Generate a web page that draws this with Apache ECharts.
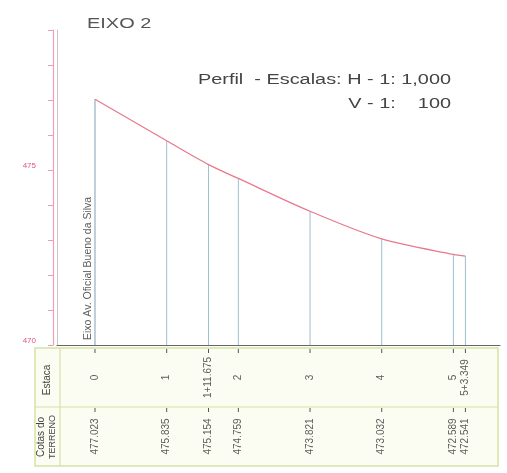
<!DOCTYPE html>
<html><head><meta charset="utf-8">
<script src="https://cdn.jsdelivr.net/npm/echarts@6/dist/echarts.min.js"></script>
<style>html,body{margin:0;padding:0;background:#fff}#c{width:507px;height:473px}</style>
</head><body><div id="c"></div>
<script>
// stations (meters along the axis), labels and ground elevations
const stationDist = [0, 20, 31.675, 40, 60, 80, 100, 103.349];
const stationLabels = ['0', '1', '1+11.675', '2', '3', '4', '5', '5+3.349'];
const elevations = [477.023, 475.835, 475.154, 474.759, 473.821, 473.032, 472.589, 472.541];
const yTickLabels = {470: '470', 475: '475'};
const streetName = 'Eixo Av. Oficial Bueno da Silva';

const FONT = 'Liberation Sans';
const chart = echarts.init(document.getElementById('c'), null, {renderer: 'canvas'});

const profile = stationDist.map((d, i) => [d, elevations[i]]);
const estacaPts = stationDist.map((d, i) => ({value: [d, 1.5], label: {formatter: stationLabels[i]}}));
const cotaPts = stationDist.map((d, i) => ({value: [d, 0.5], label: {formatter: elevations[i].toFixed(3)}}));
const tableLabel = {show: true, position: 'inside', rotate: 90, align: 'center', verticalAlign: 'middle', fontSize: 10, color: '#333', fontFamily: FONT};

chart.setOption({
  backgroundColor: '#fff',
  animation: false,
  textStyle: {fontFamily: FONT},
  grid: [
    {left: 57, right: 7, top: 30, bottom: 128},
    {left: 57, right: 7, top: 348, bottom: 7}
  ],
  xAxis: [
    {type: 'value', gridIndex: 0, min: -10.6, max: 113, axisLine: {onZero: false, lineStyle: {color: '#666', width: 1.2}},
     axisTick: {show: false}, axisLabel: {show: false}, splitLine: {show: false}},
    {type: 'value', gridIndex: 1, min: -10.6, max: 113, show: false}
  ],
  yAxis: [
    {type: 'value', gridIndex: 0, min: 470, max: 479, interval: 1, position: 'left', offset: 4,
     axisLine: {show: true, onZero: false, lineStyle: {color: '#f0a0b4', width: 1.2}},
     axisTick: {show: true, length: 5, lineStyle: {color: '#e8a0b0'}},
     axisLabel: {fontSize: 8, color: '#e05878', margin: 17, verticalAlign: 'bottom', formatter: v => yTickLabels[v] || ''},
     splitLine: {show: false}},
    {type: 'value', gridIndex: 0, min: 470, max: 479, position: 'left', offset: 0,
     axisLine: {show: true, onZero: false, lineStyle: {color: '#c8c8c8', width: 1}},
     axisTick: {show: false}, axisLabel: {show: false}, splitLine: {show: false}},
    {type: 'value', gridIndex: 1, min: 0, max: 2, show: false}
  ],
  graphic: [
    {type: 'rect', shape: {x: 35, y: 348, width: 463, height: 118}, style: {fill: '#fbfdf2', stroke: '#d6e2a4', lineWidth: 1.5}, z: -1},
    {type: 'line', shape: {x1: 35, y1: 407, x2: 498, y2: 407}, style: {stroke: '#d6e2a4', lineWidth: 1.2}, z: -1},
    {type: 'line', shape: {x1: 60, y1: 348, x2: 60, y2: 466}, style: {stroke: '#d6e2a4', lineWidth: 1.2}, z: -1},
    {type: 'text', x: 47, y: 380, rotation: Math.PI / 2, style: {text: 'Estaca', fontSize: 10, fill: '#444', fontFamily: FONT, align: 'center', verticalAlign: 'middle'}},
    {type: 'text', x: 41, y: 437, rotation: Math.PI / 2, style: {text: 'Cotas do', fontSize: 10, fill: '#444', fontFamily: FONT, align: 'center', verticalAlign: 'middle'}},
    {type: 'text', x: 53, y: 437, rotation: Math.PI / 2, style: {text: 'TERRENO', fontSize: 9, fill: '#444', fontFamily: FONT, align: 'center', verticalAlign: 'middle'}},
    {type: 'text', x: 87, y: 24, scaleX: 1.33, style: {text: 'EIXO 2', fontSize: 15, fill: '#555', fontFamily: FONT, align: 'left', verticalAlign: 'middle'}},
    {type: 'text', x: 451, y: 80, scaleX: 1.42, style: {text: 'Perfil  - Escalas: H - 1: 1,000', fontSize: 14, fill: '#444', fontFamily: FONT, align: 'right', verticalAlign: 'middle'}},
    {type: 'text', x: 451, y: 104, scaleX: 1.42, style: {text: 'V - 1:    100', fontSize: 14, fill: '#444', fontFamily: FONT, align: 'right', verticalAlign: 'middle'}}
  ],
  series: [
    {
      type: 'custom', xAxisIndex: 0, yAxisIndex: 0, data: profile, z: 1,
      renderItem: (params, api) => {
        const top = api.coord([api.value(0), api.value(1)]);
        const bot = api.coord([api.value(0), 470]);
        return {type: 'line', shape: {x1: top[0], y1: top[1], x2: bot[0], y2: bot[1]},
                style: {stroke: params.dataIndex === 0 ? '#7f9fb2' : '#9fbfd0', lineWidth: 1}};
      }
    },
    {
      type: 'line', xAxisIndex: 0, yAxisIndex: 0, data: profile, smooth: 0.3, showSymbol: false, z: 3,
      lineStyle: {color: '#e87a8c', width: 1.3}
    },
    {
      type: 'scatter', xAxisIndex: 0, yAxisIndex: 0, data: [{value: [0, 470], label: {formatter: streetName}}],
      symbolSize: 0, z: 4,
      label: {show: true, position: 'inside', rotate: 90, align: 'left', verticalAlign: 'middle', offset: [5, -7],
              fontSize: 10.5, color: '#333', fontFamily: FONT}
    },
    {
      type: 'custom', xAxisIndex: 1, yAxisIndex: 2, data: stationDist.flatMap(d => [[d, 2], [d, 1]]),
      renderItem: (params, api) => {
        const p = api.coord([api.value(0), api.value(1)]);
        return {type: 'line', shape: {x1: p[0], y1: p[1] + 1, x2: p[0], y2: p[1] + 5}, style: {stroke: '#555', lineWidth: 1}};
      }
    },
    {type: 'scatter', xAxisIndex: 1, yAxisIndex: 2, data: estacaPts, symbolSize: 0, label: tableLabel},
    {type: 'scatter', xAxisIndex: 1, yAxisIndex: 2, data: cotaPts, symbolSize: 0, label: tableLabel}
  ]
});
</script></body></html>
